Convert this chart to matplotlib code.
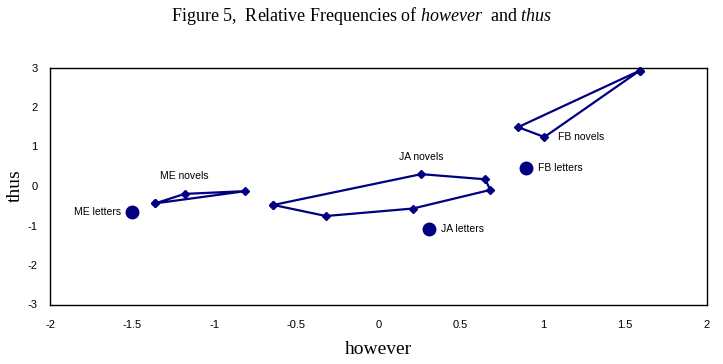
import matplotlib.pyplot as plt

# novel samples (closed outlines) and letters (single points)
me_novels_x = [-1.36, -1.18, -0.81]
me_novels_y = [-0.44, -0.20, -0.13]
ja_novels_x = [-0.64, 0.26, 0.65, 0.68, 0.21, -0.32]
ja_novels_y = [-0.48, 0.30, 0.17, -0.10, -0.57, -0.76]
fb_novels_x = [1.59, 0.85, 1.01]
fb_novels_y = [2.92, 1.49, 1.24]

letters_names = ["ME letters", "JA letters", "FB letters"]
letters_x = [-1.50, 0.31, 0.90]
letters_y = [-0.67, -1.10, 0.45]

novel_labels = ["ME novels", "JA novels", "FB novels"]
novel_label_x = [-1.18, 0.26, 1.09]
novel_label_y = [0.25, 0.73, 1.25]

xticks = [-2, -1.5, -1, -0.5, 0, 0.5, 1, 1.5, 2]
yticks = [-3, -2, -1, 0, 1, 2, 3]

NAVY = "#000080"

plt.rcParams["font.family"] = ["Liberation Sans", "DejaVu Sans"]
plt.rcParams["axes.unicode_minus"] = False
plt.rcParams["mathtext.fontset"] = "custom"
plt.rcParams["mathtext.rm"] = "Liberation Serif"
plt.rcParams["mathtext.it"] = "Liberation Serif:italic"

fig = plt.figure(figsize=(7.23, 3.64), dpi=100)
ax = fig.add_axes([50 / 723, 1 - 304.5 / 364, 657 / 723, 237 / 364])

for xs, ys in [(me_novels_x, me_novels_y), (ja_novels_x, ja_novels_y), (fb_novels_x, fb_novels_y)]:
    ax.plot(xs + xs[:1], ys + ys[:1], color=NAVY, lw=1.6, marker="D", ms=4.5,
            clip_on=False)

ax.plot(letters_x, letters_y, linestyle="none", marker="o", ms=9, color=NAVY)

for name, x, y in zip(novel_labels, novel_label_x, novel_label_y):
    ha = "left" if name.startswith("FB") else "center"
    ax.text(x, y, name, fontsize=7.5, ha=ha, va="center")

# letters labels: ME on the left of its dot, the others on the right
ax.text(letters_x[0] - 0.07, letters_y[0], letters_names[0], fontsize=7.5, ha="right", va="center")
ax.text(letters_x[1] + 0.07, letters_y[1], letters_names[1], fontsize=7.5, ha="left", va="center")
ax.text(letters_x[2] + 0.07, letters_y[2], letters_names[2], fontsize=7.5, ha="left", va="center")

ax.set_xlim(-2, 2)
ax.set_ylim(-3, 3)
ax.set_xticks(xticks)
ax.set_xticklabels([f"{t:g}" for t in xticks])
ax.set_yticks(yticks)
ax.tick_params(length=0, labelsize=8)
ax.tick_params(axis="x", pad=11)
ax.tick_params(axis="y", pad=9)
for s in ax.spines.values():
    s.set_linewidth(1.0)

ax.set_xlabel("however", family="Liberation Serif", fontsize=14, labelpad=8)
ax.set_ylabel("thus", family="Liberation Serif", fontsize=14, labelpad=3)

fig.text(0.5, 0.955, "Figure 5,  Relative Frequencies of $\\it{however}$  and $\\it{thus}$",
         ha="center", va="center", family="Liberation Serif", fontsize=13)

fig.savefig("out.png", dpi=100)
